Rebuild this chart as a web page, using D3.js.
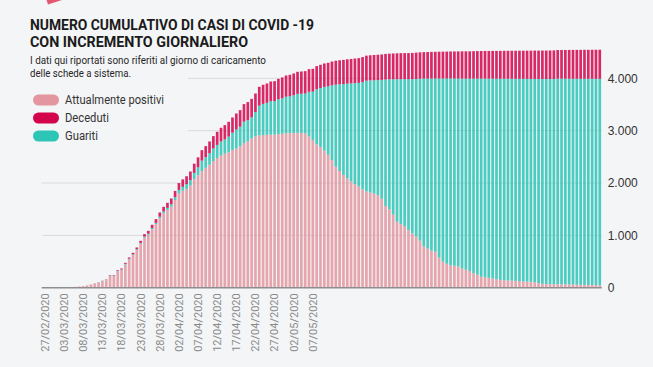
<!DOCTYPE html>
<html>
<head>
<meta charset="utf-8">
<script src="https://cdn.jsdelivr.net/npm/d3@7"></script>
<style>
  html, body { margin: 0; padding: 0; background: #f4f5f7; }
  svg { display: block; }
</style>
</head>
<body>
<svg id="chart" width="653" height="367"></svg>
<script>
// giorni: dal 27/02/2020 al 21/07/2020
const startDate = "27/02/2020";
const endDate = "21/07/2020";

const tickLabels = ["27/02/2020", "03/03/2020", "08/03/2020", "13/03/2020", "18/03/2020",
  "23/03/2020", "28/03/2020", "02/04/2020", "07/04/2020", "12/04/2020", "17/04/2020",
  "22/04/2020", "27/04/2020", "02/05/2020", "07/05/2020"];

const yTicks = [0, 1000, 2000, 3000, 4000];

const seriesNames = ["Attualmente positivi", "Deceduti", "Guariti"];

const positivi = [0, 0, 0, 0, 0, 0, 0, 0, 19, 24, 31, 43, 61, 79, 96, 121, 145, 225, 223, 313,
  342, 446, 543, 627, 723, 842, 959, 1013, 1119, 1216, 1328, 1422, 1486, 1550, 1675, 1803, 1853, 1888, 1952, 2074,
  2150, 2230, 2290, 2350, 2420, 2480, 2525, 2560, 2590, 2630, 2660, 2700, 2760, 2800, 2850, 2890, 2910, 2915, 2920, 2925,
  2925, 2935, 2940, 2950, 2955, 2955, 2960, 2955, 2950, 2890, 2820, 2740, 2690, 2620, 2540, 2440, 2313, 2230, 2154, 2090,
  2030, 1980, 1935, 1880, 1840, 1820, 1800, 1770, 1700, 1560, 1500, 1400, 1262, 1220, 1170, 1100, 1040, 980, 900, 790,
  750, 710, 690, 580, 500, 460, 430, 420, 410, 370, 345, 320, 280, 250, 212, 200, 190, 178, 165, 150,
  145, 140, 137, 133, 128, 120, 118, 115, 105, 90, 75, 72, 70, 68, 67, 66, 65, 64, 62, 60,
  58, 56, 55, 54, 52, 50];

const deceduti = [0, 0, 0, 0, 0, 0, 0, 0, 0, 1, 1, 2, 2, 3, 4, 5, 6, 8, 10, 14,
  17, 20, 24, 28, 33, 40, 48, 55, 62, 70, 80, 88, 97, 108, 120, 132, 142, 152, 163, 176,
  190, 200, 210, 222, 235, 250, 262, 272, 282, 292, 305, 315, 335, 345, 350, 355, 360, 365, 370, 375,
  382, 390, 398, 405, 410, 415, 420, 425, 428, 432, 436, 440, 444, 447, 450, 453, 456, 459, 462, 465,
  467, 470, 472, 475, 478, 480, 482, 484, 486, 488, 490, 492, 494, 496, 497, 499, 500, 502, 504, 505,
  507, 508, 510, 511, 512, 514, 515, 517, 518, 520, 521, 522, 523, 525, 526, 527, 528, 529, 530, 531,
  532, 533, 534, 535, 536, 537, 538, 539, 540, 541, 542, 543, 544, 545, 546, 547, 548, 549, 550, 551,
  552, 553, 553, 554, 555, 555];

const guariti = [0, 0, 0, 0, 0, 0, 0, 0, 0, 0, 0, 0, 1, 1, 2, 8, 8, 9, 9, 10,
  10, 11, 12, 13, 14, 15, 18, 20, 22, 25, 30, 36, 40, 48, 55, 65, 75, 90, 105, 120,
  150, 198, 205, 222, 241, 248, 268, 274, 297, 330, 363, 377, 412, 400, 408, 465, 568, 596, 611, 639,
  639, 665, 678, 699, 702, 722, 744, 750, 759, 853, 925, 1052, 1124, 1216, 1306, 1427, 1566, 1656, 1736, 1808,
  1873, 1928, 1978, 2050, 2114, 2140, 2163, 2196, 2270, 2417, 2480, 2582, 2721, 2764, 2814, 2883, 2944, 3008, 3092, 3205,
  3245, 3286, 3306, 3417, 3497, 3536, 3567, 3576, 3586, 3625, 3649, 3674, 3715, 3745, 3783, 3795, 3804, 3816, 3828, 3843,
  3848, 3852, 3855, 3858, 3863, 3870, 3872, 3874, 3884, 3898, 3913, 3915, 3917, 3920, 3927, 3928, 3928, 3929, 3930, 3932,
  3933, 3935, 3936, 3937, 3938, 3941];

const colors = { positivi: "#e3969f", deceduti: "#d3044c", guariti: "#2cc5b6" };

const parseDate = d3.timeParse("%d/%m/%Y");
const fmtDate = d3.timeFormat("%d/%m/%Y");
const itFmt = d3.formatLocale({ decimal: ",", thousands: ".", grouping: [3], currency: ["€", ""] }).format(",");

const days = d3.timeDay.range(parseDate(startDate), d3.timeDay.offset(parseDate(endDate), 1)).map(fmtDate);

const data = days.map((d, i) => ({
  date: d,
  positivi: positivi[i],
  guariti: guariti[i],
  deceduti: deceduti[i]
}));

const svg = d3.select("#chart");

let x = d3.scaleBand().domain(days).range([43.1, 601.7]).paddingInner(0.3).paddingOuter(0.15);
let y = d3.scaleLinear().domain([0, 4000]).range([287.8, 78.3]);

// griglia
svg.append("g")
  .selectAll("line")
  .data(yTicks.filter(d => d > 0))
  .enter()
  .append("line")
  .attr("x1", 41.7)
  .attr("x2", 601.7)
  .attr("y1", d => y(d))
  .attr("y2", d => y(d))
  .attr("stroke", "#d9dadd")
  .attr("stroke-width", 1);

// barre impilate
const stack = d3.stack().keys(["positivi", "guariti", "deceduti"]);
const layers = stack(data);

svg.append("g")
  .selectAll("g")
  .data(layers)
  .enter()
  .append("g")
  .attr("fill", d => colors[d.key])
  .attr("fill-opacity", 0.85)
  .selectAll("rect")
  .data(d => d)
  .enter()
  .append("rect")
  .attr("x", d => x(d.data.date))
  .attr("y", d => y(d[1]))
  .attr("width", x.bandwidth())
  .attr("height", d => y(d[0]) - y(d[1]));

// linea base
svg.append("line")
  .attr("x1", 41.7)
  .attr("x2", 601.7)
  .attr("y1", y(0))
  .attr("y2", y(0))
  .attr("stroke", "#8e8e8e")
  .attr("stroke-width", 1.5);

// asse x
const xAxis = svg.append("g")
  .attr("transform", "translate(0," + y(0) + ")")
  .call(d3.axisBottom(x).tickValues(tickLabels).tickSize(0));
xAxis.select(".domain").remove();
xAxis.selectAll("text")
  .attr("transform", "rotate(-90)")
  .attr("x", -5.5)
  .attr("y", 0)
  .attr("dy", "0.35em")
  .attr("text-anchor", "end")
  .attr("fill", "#8a8a8a")
  .attr("font-family", "Roboto, sans-serif")
  .attr("font-size", "11px");

// asse y
const yAxis = svg.append("g")
  .attr("transform", "translate(601.7,0)")
  .call(d3.axisRight(y).tickValues(yTicks).tickSize(0).tickPadding(6).tickFormat(itFmt));
yAxis.select(".domain").remove();
yAxis.selectAll("text")
  .attr("fill", "#333")
  .attr("font-family", "'Liberation Sans', Arial, sans-serif")
  .attr("font-size", "12px");

// box intestazione
svg.append("rect")
  .attr("x", 0).attr("y", 0)
  .attr("width", 188).attr("height", 145)
  .attr("fill", "#f4f5f7");

svg.append("polygon")
  .attr("points", "46.5,0 62,0 48,4.5")
  .attr("fill", "#e4586f");

const title = [
  { t: "NUMERO CUMULATIVO DI CASI DI COVID -19", y: 29.5, w: 284 },
  { t: "CON INCREMENTO GIORNALIERO", y: 47, w: 218 }
];
svg.selectAll(".title")
  .data(title)
  .enter()
  .append("text")
  .attr("class", "title")
  .attr("x", 30)
  .attr("y", d => d.y)
  .attr("textLength", d => d.w)
  .attr("lengthAdjust", "spacingAndGlyphs")
  .attr("font-family", "Roboto, sans-serif")
  .attr("font-weight", "bold")
  .attr("font-size", "14.5px")
  .attr("fill", "#1b1b1b")
  .text(d => d.t);

const sub = [
  { t: "I dati qui riportati sono riferiti al giorno di caricamento", y: 64, w: 236 },
  { t: "delle schede a sistema.", y: 77, w: 101 }
];
svg.selectAll(".sub")
  .data(sub)
  .enter()
  .append("text")
  .attr("class", "sub")
  .attr("x", 30)
  .attr("y", d => d.y)
  .attr("textLength", d => d.w)
  .attr("lengthAdjust", "spacingAndGlyphs")
  .attr("font-family", "Roboto, sans-serif")
  .attr("font-size", "11px")
  .attr("fill", "#262626")
  .text(d => d.t);

// legenda
const legend = [
  { name: seriesNames[0], c: colors.positivi, w: 99 },
  { name: seriesNames[1], c: colors.deceduti, w: 44 },
  { name: seriesNames[2], c: colors.guariti, w: 33 }
];
const lg = svg.append("g")
  .selectAll("g")
  .data(legend)
  .enter()
  .append("g")
  .attr("transform", (d, i) => "translate(33," + (100 + i * 18) + ")");
lg.append("rect")
  .attr("x", 0).attr("y", -5.5)
  .attr("width", 26).attr("height", 11)
  .attr("rx", 5.5)
  .attr("fill", d => d.c);
lg.append("text")
  .attr("x", 32)
  .attr("y", 4.3)
  .attr("textLength", d => d.w)
  .attr("lengthAdjust", "spacingAndGlyphs")
  .attr("font-family", "Roboto, sans-serif")
  .attr("font-size", "12px")
  .attr("fill", "#333")
  .text(d => d.name);
</script>
</body>
</html>
